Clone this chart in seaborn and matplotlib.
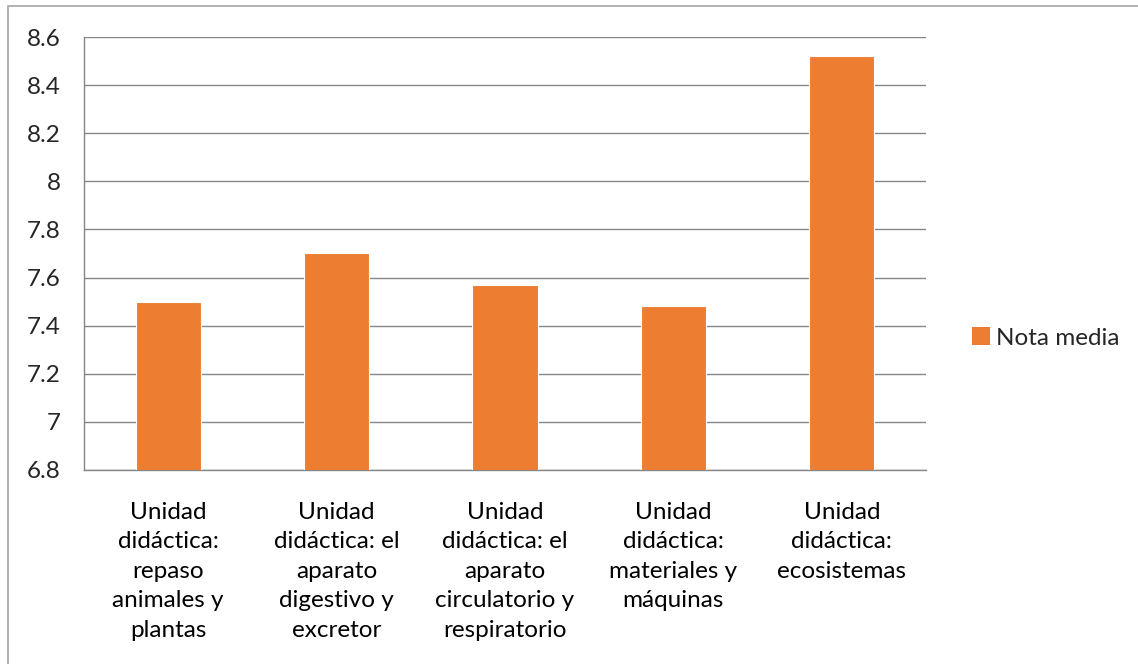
import matplotlib
matplotlib.use("Agg")
import matplotlib.pyplot as plt
import seaborn as sns
from matplotlib.patches import Rectangle, Patch

categories = [
    "Unidad\ndidáctica:\nrepaso\nanimales y\nplantas",
    "Unidad\ndidáctica: el\naparato\ndigestivo y\nexcretor",
    "Unidad\ndidáctica: el\naparato\ncirculatorio y\nrespiratorio",
    "Unidad\ndidáctica:\nmateriales y\nmáquinas",
    "Unidad\ndidáctica:\necosistemas",
]
nota_media = [7.50, 7.70, 7.57, 7.48, 8.52]
y_ticks = [6.8, 7.0, 7.2, 7.4, 7.6, 7.8, 8.0, 8.2, 8.4, 8.6]
y_tick_labels = ["6.8", "7", "7.2", "7.4", "7.6", "7.8", "8", "8.2", "8.4", "8.6"]
series_name = "Nota media"

ORANGE = "#ED7D31"
GRID = "#868686"
W, H = 1138, 664

sns.set_style("white")
plt.rcParams["font.family"] = ["Lato", "DejaVu Sans"]
plt.rcParams["font.size"] = 17.5

fig = plt.figure(figsize=(W / 100, H / 100), dpi=100)
ax = fig.add_axes([84 / W, 1 - 470 / H, (926 - 84) / W, (470 - 37) / H])

sns.barplot(x=list(range(len(categories))), y=nota_media, color=ORANGE,
            width=0.386, saturation=1, edgecolor="white", linewidth=0.8,
            ax=ax, zorder=3)

ax.set_ylim(6.8, 8.6)
ax.set_xlim(-0.5, len(categories) - 0.5)
ax.set_yticks(y_ticks)
ax.set_yticklabels(y_tick_labels)
ax.set_xticks(range(len(categories)))
ax.set_xticklabels(categories, linespacing=1.5, va="top")
ax.set_xticks([i - 0.5 for i in range(len(categories) + 1)], minor=True)
ax.tick_params(axis="x", which="major", length=0, pad=23, colors="black")
ax.tick_params(axis="x", which="minor", length=7, width=1, color=GRID)
ax.tick_params(axis="y", length=8, width=1, color=GRID, pad=9)

ax.grid(axis="y", color=GRID, linewidth=1)
ax.set_axisbelow(True)
for side in ["top", "right"]:
    ax.spines[side].set_visible(False)
for side in ["left", "bottom"]:
    ax.spines[side].set_color(GRID)
    ax.spines[side].set_linewidth(1)

handle = Patch(facecolor=ORANGE, edgecolor="none")
fig.legend([handle], [series_name], loc="center left",
           bbox_to_anchor=(962 / W, 1 - 338 / H), frameon=False,
           handlelength=0.75, handleheight=0.75, handletextpad=0.25,
           borderaxespad=0)

fig.patches.append(Rectangle((8 / W, -0.01), 1.1, 1 - 6 / H + 0.01,
                             transform=fig.transFigure, fill=False,
                             edgecolor="#A6A6A6", linewidth=1.2))

fig.savefig("out.png", dpi=100)
